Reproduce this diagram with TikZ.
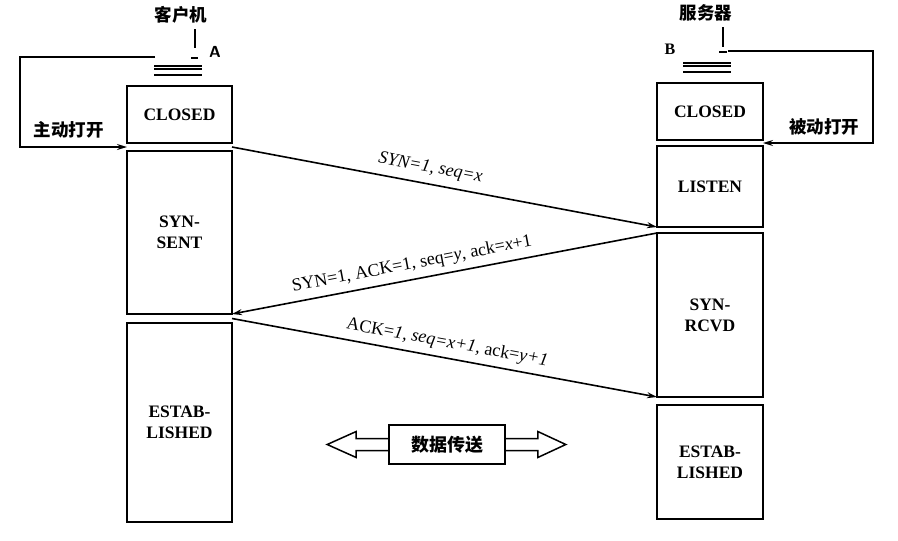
\documentclass[tikz,border=0pt]{standalone}
\usepackage{fontspec}
\setmainfont{Liberation Serif}
\newfontfamily\cjk{Noto Sans CJK SC}
\usetikzlibrary{arrows.meta,calc}
\begin{document}
\begin{tikzpicture}[x=1pt,y=-1pt,
  state/.style={draw,line width=2pt,minimum width=105pt,inner sep=0pt,outer sep=0pt,
    font=\fontsize{17.5}{21}\selectfont\bfseries,align=center},
  msg/.style={line width=1.6pt,-{Stealth[length=10pt,width=6pt]}},
  fb/.style={line width=1.4pt,-{Stealth[length=10pt,width=6pt]}},
  lbl/.style={font=\fontsize{18}{21}\selectfont,inner sep=2pt},
  zh/.style={font=\cjk\bfseries\fontsize{17.5}{20}\selectfont,inner sep=0pt},
  tickline/.style={line width=1.2pt}]
\useasboundingbox (0,0) rectangle (898,541);

% client column
\node[state,minimum height=57pt] (lclosed) at (179.5,114.5) {CLOSED};
\node[state,minimum height=163pt] (lsent) at (179.5,232.5) {SYN-\\SENT};
\node[state,minimum height=199pt] (lest) at (179.5,422.5) {ESTAB-\\LISHED};

% server column
\node[state,minimum width=106pt,minimum height=57pt] (rclosed) at (710,111.5) {CLOSED};
\node[state,minimum width=106pt,minimum height=81pt] (rlisten) at (710,186.5) {LISTEN};
\node[state,minimum width=106pt,minimum height=164pt] (rrcvd) at (710,315) {SYN-\\RCVD};
\node[state,minimum width=106pt,minimum height=114pt] (rest) at (710,462) {ESTAB-\\LISHED};

% titles and markers
\node[zh] (client) at (181,15) {客户机};
\node[zh] (server) at (706,13) {服务器};
\node[font=\fontsize{16}{19}\selectfont\bfseries\sffamily,inner sep=0pt] (A) at (215,52) {A};
\node[font=\fontsize{16}{19}\selectfont\bfseries,inner sep=0pt] (B) at (670,49) {B};

\draw[tickline] (195,29) -- (195,48);
\draw[line width=1.6pt] (191,58) -- (198,58);
\draw[tickline] (154,66) -- (202,66);
\draw[tickline] (154,69) -- (202,69);
\draw[tickline] (154,75) -- (202,75);

\draw[tickline] (723,27) -- (723,47);
\draw[line width=1.6pt] (719,52) -- (727,52);
\draw[tickline] (683,63) -- (731,63);
\draw[tickline] (683,66) -- (731,66);
\draw[tickline] (683,72) -- (731,72);

% open feedback loops
\coordinate (fbA) at (155,57);
\coordinate (lin) at ($(lclosed.south west)!0.5!(lsent.north west)$);
\draw[fb] (fbA) -- (20,57) |- (lin);
\node[zh] (actopen) at (69,130) {主动打开};

\coordinate (fbB) at (728,51);
\coordinate (rin) at ($(rclosed.south east)!0.5!(rlisten.north east)$);
\draw[fb] (fbB) -- (873,51) |- (rin);
\node[zh] (pasopen) at (824,127) {被动打开};

% handshake messages
\coordinate (s1) at ($(lclosed.south east)!0.5!(lsent.north east)$);
\draw[msg] (s1) -- node[lbl,pos=0.46,sloped,above=5pt] {\itshape SYN=1, seq=x} (rlisten.south west);

\draw[msg] (rrcvd.north west) -- node[lbl,pos=0.57,sloped,above=4pt] {SYN=1, ACK=1, seq=\textit{y}, ack=\textit{x}+1} (lsent.south east);

\coordinate (s3) at ($(lsent.south east)!0.5!(lest.north east)$);
\draw[msg] (s3) -- node[lbl,midway,sloped,above=4pt] {ACK=\textit{1}, \textit{seq=x+1}, ack=\textit{y+1}} (rrcvd.south west);

% data transfer
\node[draw,line width=1.6pt,minimum width=116pt,minimum height=39pt,inner sep=0pt,
  font=\cjk\bfseries\fontsize{18}{21}\selectfont] (dt) at (447,444.5) {数据传送};
\draw[line width=1.5pt,line join=miter] ($(dt.west)+(0,-6)$) -- ++(-32,0) -- ++(0,-7) -- ++(-29,13)
  -- ++(29,13) -- ++(0,-7) -- ++(32,0);
\draw[line width=1.5pt,line join=miter] ($(dt.east)+(0,-6)$) -- ++(32,0) -- ++(0,-7) -- ++(28,13)
  -- ++(-28,13) -- ++(0,-7) -- ++(-32,0);
\end{tikzpicture}
\end{document}
